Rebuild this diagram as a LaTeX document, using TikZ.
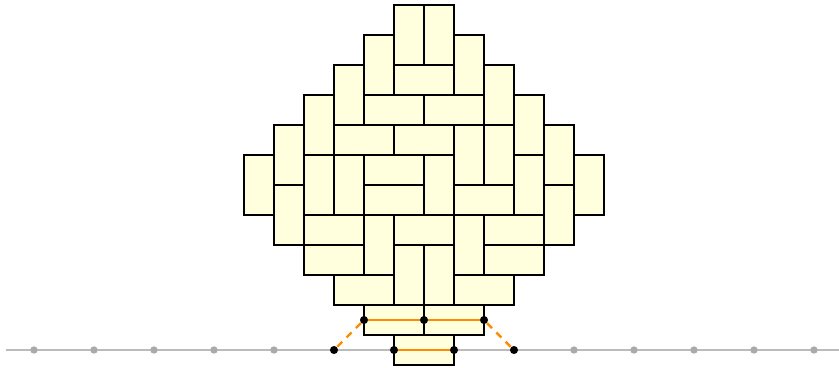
\documentclass[tikz,border=0pt]{standalone}
\usetikzlibrary{positioning}
\definecolor{tilefill}{HTML}{FFFFDD}
\definecolor{pathorange}{HTML}{FF8C00}
\definecolor{axisgray}{HTML}{BBBBBB}
\definecolor{dotgray}{HTML}{AAAAAA}

\begin{document}
\begin{tikzpicture}[
    x=0.6cm, y=0.6cm,
    domino/.style={draw=black, fill=tilefill, line width=1.2pt},
    axis/.style={draw=axisgray, line width=1.1pt},
    griddot/.style={circle, fill=dotgray, inner sep=0pt, minimum size=4.2pt},
    pathdot/.style={circle, fill=black, inner sep=0pt, minimum size=4.6pt},
    link/.style={draw=pathorange, line width=1.4pt},
    jump/.style={link, dashed, dash pattern=on 4pt off 3.5pt},
]
    \useasboundingbox (-14.1333,-6.0667) rectangle (13.8333,6.1667);

    % base line with its marks
    \coordinate (west) at (-13.93,-5.5);
    \coordinate (east) at (13.9,-5.5);
    \draw[axis] (west) -- (east);
    \foreach \k in {-13,-11,-9,-7,-5,5,7,9,11,13}
        \node[griddot] (g\k) at (\k,-5.5) {};

    % the tiling, one rectangle per domino
    \foreach \a/\b/\c/\d in {
        -1/6/0/4, 0/6/1/4, -2/5/-1/3, 1/5/2/3, -3/4/-2/2, -1/4/1/3, 2/4/3/2,
        -4/3/-3/1, -2/3/0/2, 0/3/2/2, 3/3/4/1, -5/2/-4/0, -3/2/-1/1, -1/2/1/1,
        1/2/2/0, 2/2/3/0, 4/2/5/0, -6/1/-5/-1, -4/1/-3/-1, -3/1/-2/-1, -2/1/0/0,
        0/1/1/-1, 3/1/4/-1, 5/1/6/-1, -2/0/0/-1, 1/0/3/-1, -5/0/-4/-2, 4/0/5/-2,
        -4/-1/-2/-2, -2/-1/-1/-3, -1/-1/1/-2, 1/-1/2/-3, 2/-1/4/-2, -4/-2/-2/-3,
        -1/-2/0/-4, 0/-2/1/-4, 2/-2/4/-3, -3/-3/-1/-4, 1/-3/3/-4,
        -2/-4/0/-5, 0/-4/2/-5, -1/-5/1/-6}
        \draw[domino] (\a,\b) rectangle (\c,\d);

    % path points
    \node[pathdot] (uleft)  at (-2,-4.5) {};
    \node[pathdot] (umid)   at (0,-4.5) {};
    \node[pathdot] (uright) at (2,-4.5) {};
    \node[pathdot] (lleft)  at (-1,-5.5) {};
    \node[pathdot] (lright) at (1,-5.5) {};
    \node[pathdot] (oleft)  at (-3,-5.5) {};
    \node[pathdot] (oright) at (3,-5.5) {};

    \draw[link] (uleft) -- (umid) -- (uright);
    \draw[link] (lleft) -- (lright);
    \draw[jump] (uleft) -- (oleft);
    \draw[jump] (uright) -- (oright);
\end{tikzpicture}
\end{document}
